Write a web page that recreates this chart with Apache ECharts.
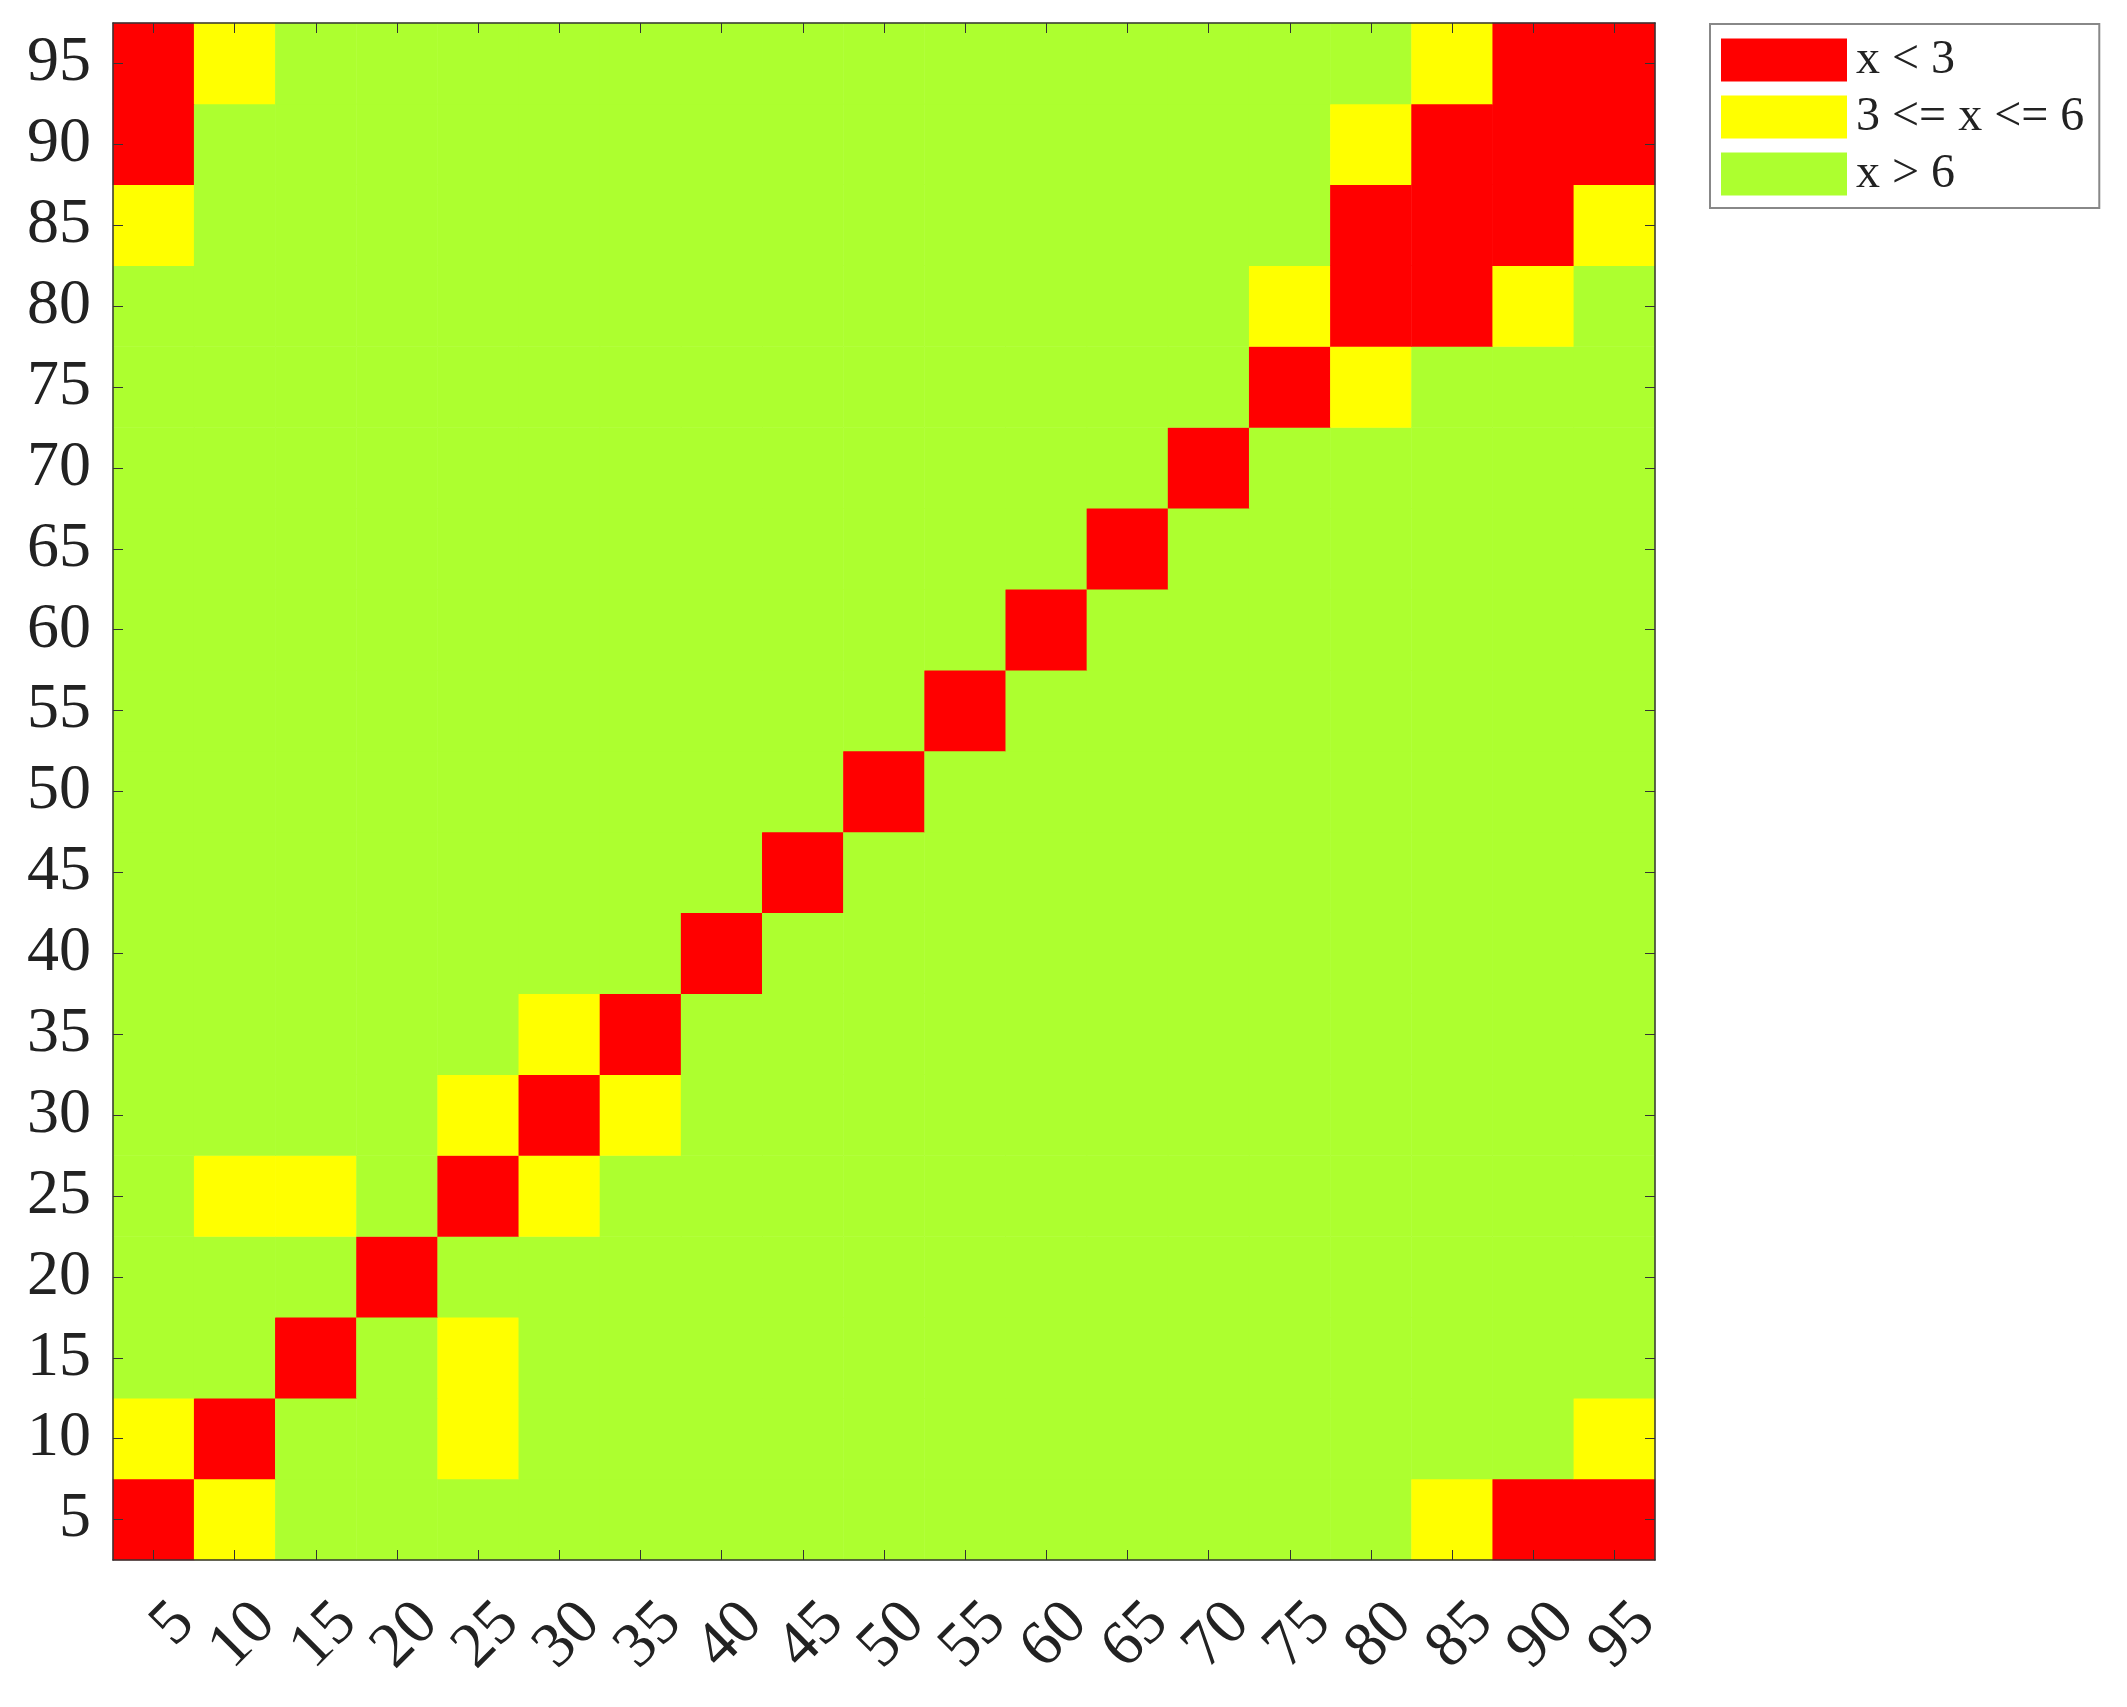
<!DOCTYPE html>
<html>
<head>
<meta charset="utf-8">
<title>heatmap</title>
<script src="https://cdn.jsdelivr.net/npm/echarts@6/dist/echarts.min.js"></script>
<style>
  html, body { margin: 0; padding: 0; background: #fff; }
  #chart { width: 2127px; height: 1707px; }
</style>
</head>
<body>
<div id="chart"></div>
<script>
// categories on both axes
var cats = ['5', '10', '15', '20', '25', '30', '35', '40', '45', '50',
            '55', '60', '65', '70', '75', '80', '85', '90', '95'];

// one row per y category, from y=5 (bottom) up to y=95 (top); columns x=5..95
// red ~2 (x<3), yellow ~4.5 (3..6), green ~9 (x>6)
var row5  = [2, 4.5, 9, 9, 9, 9, 9, 9, 9, 9, 9, 9, 9, 9, 9, 9, 4.5, 2, 2];
var row10 = [4.5, 2, 9, 9, 4.5, 9, 9, 9, 9, 9, 9, 9, 9, 9, 9, 9, 9, 9, 4.5];
var row15 = [9, 9, 2, 9, 4.5, 9, 9, 9, 9, 9, 9, 9, 9, 9, 9, 9, 9, 9, 9];
var row20 = [9, 9, 9, 2, 9, 9, 9, 9, 9, 9, 9, 9, 9, 9, 9, 9, 9, 9, 9];
var row25 = [9, 4.5, 4.5, 9, 2, 4.5, 9, 9, 9, 9, 9, 9, 9, 9, 9, 9, 9, 9, 9];
var row30 = [9, 9, 9, 9, 4.5, 2, 4.5, 9, 9, 9, 9, 9, 9, 9, 9, 9, 9, 9, 9];
var row35 = [9, 9, 9, 9, 9, 4.5, 2, 9, 9, 9, 9, 9, 9, 9, 9, 9, 9, 9, 9];
var row40 = [9, 9, 9, 9, 9, 9, 9, 2, 9, 9, 9, 9, 9, 9, 9, 9, 9, 9, 9];
var row45 = [9, 9, 9, 9, 9, 9, 9, 9, 2, 9, 9, 9, 9, 9, 9, 9, 9, 9, 9];
var row50 = [9, 9, 9, 9, 9, 9, 9, 9, 9, 2, 9, 9, 9, 9, 9, 9, 9, 9, 9];
var row55 = [9, 9, 9, 9, 9, 9, 9, 9, 9, 9, 2, 9, 9, 9, 9, 9, 9, 9, 9];
var row60 = [9, 9, 9, 9, 9, 9, 9, 9, 9, 9, 9, 2, 9, 9, 9, 9, 9, 9, 9];
var row65 = [9, 9, 9, 9, 9, 9, 9, 9, 9, 9, 9, 9, 2, 9, 9, 9, 9, 9, 9];
var row70 = [9, 9, 9, 9, 9, 9, 9, 9, 9, 9, 9, 9, 9, 2, 9, 9, 9, 9, 9];
var row75 = [9, 9, 9, 9, 9, 9, 9, 9, 9, 9, 9, 9, 9, 9, 2, 4.5, 9, 9, 9];
var row80 = [9, 9, 9, 9, 9, 9, 9, 9, 9, 9, 9, 9, 9, 9, 4.5, 2, 2, 4.5, 9];
var row85 = [4.5, 9, 9, 9, 9, 9, 9, 9, 9, 9, 9, 9, 9, 9, 9, 2, 2, 2, 4.5];
var row90 = [2, 9, 9, 9, 9, 9, 9, 9, 9, 9, 9, 9, 9, 9, 9, 4.5, 2, 2, 2];
var row95 = [2, 4.5, 9, 9, 9, 9, 9, 9, 9, 9, 9, 9, 9, 9, 9, 9, 4.5, 2, 2];

var rows = [row5, row10, row15, row20, row25, row30, row35, row40, row45, row50,
            row55, row60, row65, row70, row75, row80, row85, row90, row95];

// legend classes
var classLabels = ['x < 3', '3 <= x <= 6', 'x > 6'];
var classColors = ['#ff0000', '#ffff00', '#adff2f'];

var data = [];
rows.forEach(function (r, yi) {
  r.forEach(function (v, xi) {
    data.push([xi, yi, v]);
  });
});

var font = "'Liberation Serif', 'Times New Roman', serif";
var chart = echarts.init(document.getElementById('chart'));

var option = {
  backgroundColor: '#fff',
  animation: false,
  textStyle: { fontFamily: font },
  grid: { left: 113, top: 23, width: 1542, height: 1537, containLabel: false },
  xAxis: [{
    type: 'category',
    data: cats,
    position: 'bottom',
    z: 5,
    axisLine: { show: true, lineStyle: { color: '#333', width: 1.5 } },
    axisTick: { show: true, inside: true, alignWithLabel: true, interval: 0, length: 10, lineStyle: { color: '#333' } },
    // labels sit below-right of the tick like the original
    axisLabel: {
      interval: 0, rotate: 45, margin: 22,
      verticalAlign: 'top', lineHeight: 88,
      fontSize: 64, color: '#222', fontFamily: font
    },
    splitLine: { show: false }
  }, {
    type: 'category',
    data: cats,
    position: 'top',
    z: 5,
    axisLine: { show: true, lineStyle: { color: '#333', width: 1.5 } },
    axisTick: { show: true, inside: true, alignWithLabel: true, interval: 0, length: 10, lineStyle: { color: '#333' } },
    axisLabel: { show: false }
  }],
  yAxis: [{
    type: 'category',
    data: cats,
    position: 'left',
    z: 5,
    axisLine: { show: true, lineStyle: { color: '#333', width: 1.5 } },
    axisTick: { show: true, inside: true, alignWithLabel: true, interval: 0, length: 10, lineStyle: { color: '#333' } },
    axisLabel: { interval: 0, margin: 22, fontSize: 64, color: '#222', fontFamily: font },
    splitLine: { show: false }
  }, {
    type: 'category',
    data: cats,
    position: 'right',
    z: 5,
    axisLine: { show: true, lineStyle: { color: '#333', width: 1.5 } },
    axisTick: { show: true, inside: true, alignWithLabel: true, interval: 0, length: 10, lineStyle: { color: '#333' } },
    axisLabel: { show: false }
  }],
  visualMap: {
    type: 'piecewise',
    seriesIndex: 0,
    orient: 'vertical',
    inverse: true,
    left: 1709,
    top: 23,
    itemWidth: 126,
    itemHeight: 43,
    itemGap: 9,
    itemSymbol: 'rect',
    textGap: 9,
    align: 'left',
    selectedMode: false,
    backgroundColor: '#fff',
    borderColor: '#888',
    borderWidth: 2,
    padding: [12, 15, 10, 11],
    textStyle: { fontSize: 48, color: '#222', fontFamily: font },
    pieces: [
      { lt: 3, label: classLabels[0], color: classColors[0] },
      { gte: 3, lte: 6, label: classLabels[1], color: classColors[1] },
      { gt: 6, label: classLabels[2], color: classColors[2] }
    ]
  },
  series: [{
    type: 'heatmap',
    xAxisIndex: 0,
    yAxisIndex: 0,
    data: data,
    itemStyle: { borderWidth: 0 },
    emphasis: { disabled: true }
  }]
};

chart.setOption(option);
</script>
</body>
</html>
